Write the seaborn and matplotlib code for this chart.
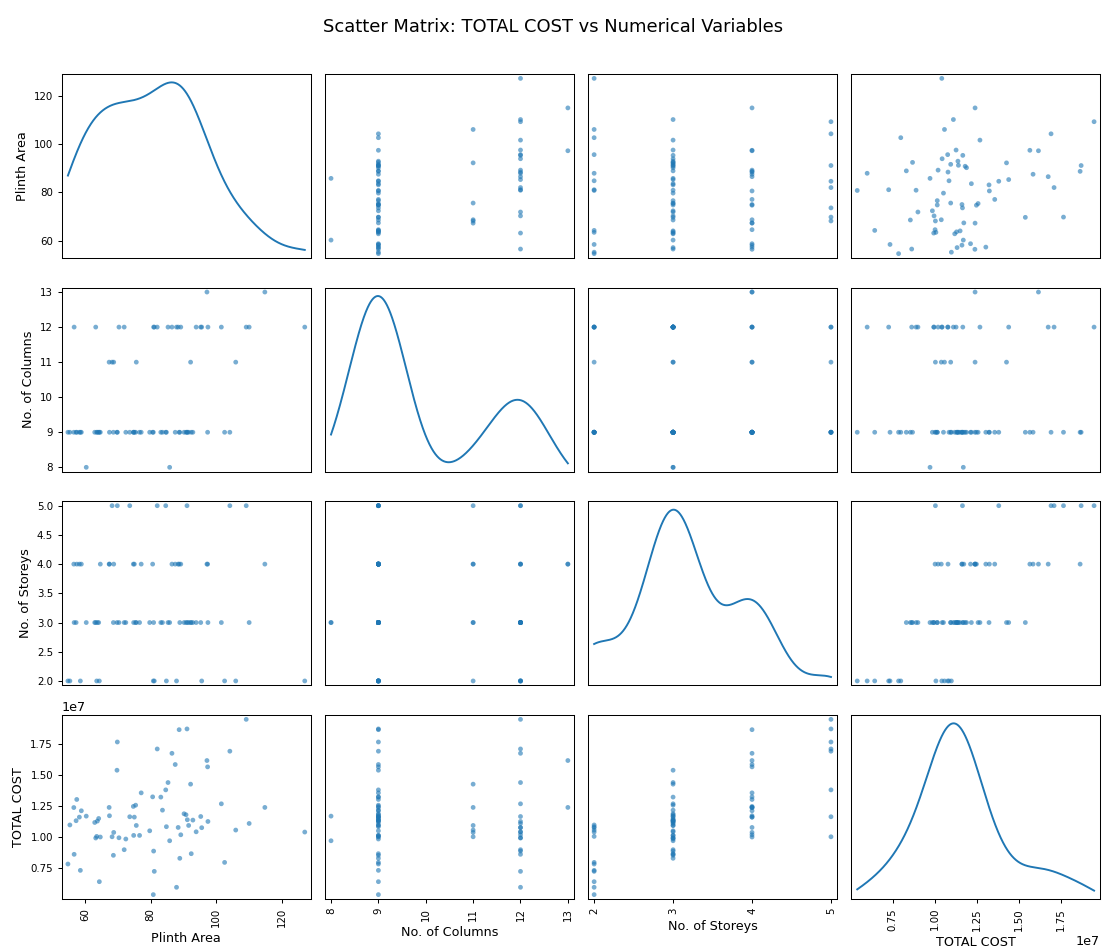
import numpy as np
import pandas as pd
import matplotlib
matplotlib.use("Agg")
import matplotlib.pyplot as plt
import seaborn as sns

plinth_area = [54.7, 55.3, 56.5, 56.6, 57.2, 57.4, 58.2, 58.5, 58.8, 60.3,
               62.9, 63.2, 63.5, 63.7, 64.1, 64.3, 64.6, 67.3, 67.4, 68.2,
               68.6, 68.7, 69.7, 69.8, 70.3, 71.9, 72.4, 73.6, 74.7, 74.8,
               75.0, 75.4, 75.6, 76.6, 77.1, 79.7, 80.6, 80.8, 80.9, 81.1,
               82.0, 83.1, 83.6, 84.6, 84.8, 85.3, 85.8, 86.5, 87.5, 87.9,
               88.4, 88.7, 88.9, 89.2, 90.2, 90.8, 91.1, 91.2, 91.6, 92.2,
               92.4, 92.9, 93.9, 95.3, 95.6, 97.2, 97.4, 97.5, 101.6, 102.6,
               104.2, 106.0, 109.2, 110.1, 114.9, 127.1]
total_cost_1e7 = [0.786, 1.100, 1.240, 0.864, 1.134, 1.305, 1.163, 0.735, 1.214, 1.171,
                  1.120, 0.995, 1.008, 1.131, 1.152, 0.644, 1.003, 1.241, 1.174, 1.005,
                  0.856, 1.040, 1.540, 1.767, 0.997, 0.901, 0.987, 1.166, 1.249, 1.016,
                  1.163, 1.259, 1.096, 1.016, 1.358, 1.053, 1.326, 0.540, 0.890, 0.727,
                  1.711, 1.324, 1.219, 1.382, 1.086, 1.441, 0.973, 1.676, 1.586, 0.599,
                  1.080, 1.866, 0.832, 1.021, 1.190, 1.182, 1.872, 1.142, 1.096, 1.428,
                  0.869, 1.139, 1.045, 1.168, 1.078, 1.618, 1.567, 1.128, 1.270, 0.799,
                  1.693, 1.059, 1.949, 1.112, 1.241, 1.043]
no_of_columns = [9, 9, 9, 12, 9, 9, 9, 9, 9, 8,
                 9, 12, 9, 9, 9, 9, 9, 11, 9, 11,
                 9, 11, 9, 9, 12, 12, 9, 9, 9, 9,
                 9, 9, 11, 9, 9, 9, 9, 9, 12, 12,
                 12, 9, 9, 9, 9, 12, 8, 12, 9, 12,
                 12, 9, 9, 12, 9, 9, 9, 9, 9, 11,
                 9, 9, 12, 12, 12, 13, 9, 12, 12, 9,
                 9, 11, 12, 12, 13, 12]
no_of_storeys = [2, 2, 4, 3, 3, 4, 4, 2, 4, 3,
                 3, 3, 2, 3, 3, 2, 4, 4, 4, 5,
                 3, 4, 3, 5, 3, 3, 3, 5, 4, 3,
                 4, 3, 3, 3, 4, 3, 4, 2, 3, 2,
                 5, 3, 3, 5, 2, 3, 3, 4, 4, 2,
                 4, 4, 3, 4, 3, 3, 5, 3, 3, 3,
                 3, 3, 3, 3, 2, 4, 4, 3, 3, 2,
                 5, 2, 5, 3, 4, 2]

columns = ["Plinth Area", "No. of Columns", "No. of Storeys", "TOTAL COST"]
df = pd.DataFrame({
    "Plinth Area": plinth_area,
    "No. of Columns": no_of_columns,
    "No. of Storeys": no_of_storeys,
    "TOTAL COST": np.array(total_cost_1e7) * 1e7,
})

DPI = 92
n = len(columns)
fig, axes = plt.subplots(n, n, figsize=(1106 / DPI, 952 / DPI), dpi=DPI)
fig.subplots_adjust(left=62/1106, right=1100/1106, top=1-74/952, bottom=1-899/952,
                    wspace=0.058, hspace=0.161)

bounds = []
for c in columns:
    lo, hi = df[c].min(), df[c].max()
    ext = (hi - lo) * 0.05 / 2
    bounds.append((lo - ext, hi + ext))

for i, a in enumerate(columns):
    for j, b in enumerate(columns):
        ax = axes[i, j]
        if i == j:
            sns.kdeplot(x=df[a], ax=ax, cut=0, gridsize=1000, color="#1f77b4", linewidth=1.5)
            ax.set_xlim(bounds[i])
        else:
            sns.scatterplot(x=df[b], y=df[a], ax=ax, marker="o", s=14, alpha=0.6,
                            color="#1f77b4", edgecolor="none", linewidth=0)
            ax.set_xlim(bounds[j])
            ax.set_ylim(bounds[i])
        ax.set_xlabel(b if i == n - 1 else "", fontsize=10)
        ax.set_ylabel(a if j == 0 else "", fontsize=10)
        if j != 0:
            ax.yaxis.set_visible(False)
        if i != n - 1:
            ax.xaxis.set_visible(False)

# remap top-left diagonal y ticks to Plinth Area values (as pandas does)
fig.canvas.draw()
lim1 = bounds[0]
locs = axes[0][1].yaxis.get_majorticklocs()
locs = locs[(lim1[0] <= locs) & (locs <= lim1[1])]
adj = (locs - lim1[0]) / (lim1[1] - lim1[0])
lim0 = axes[0][0].get_ylim()
adj = adj * (lim0[1] - lim0[0]) + lim0[0]
axes[0][0].yaxis.set_ticks(adj)
if np.all(locs == locs.astype(int)):
    locs = locs.astype(int)
axes[0][0].yaxis.set_ticklabels(locs)

for ax in axes.flat:
    plt.setp(ax.get_xticklabels(), fontsize=8, rotation=90)
    plt.setp(ax.get_yticklabels(), fontsize=8, rotation=0)

fig.suptitle("Scatter Matrix: TOTAL COST vs Numerical Variables", fontsize=14, y=0.981)
fig.savefig("out.png", dpi=DPI)
